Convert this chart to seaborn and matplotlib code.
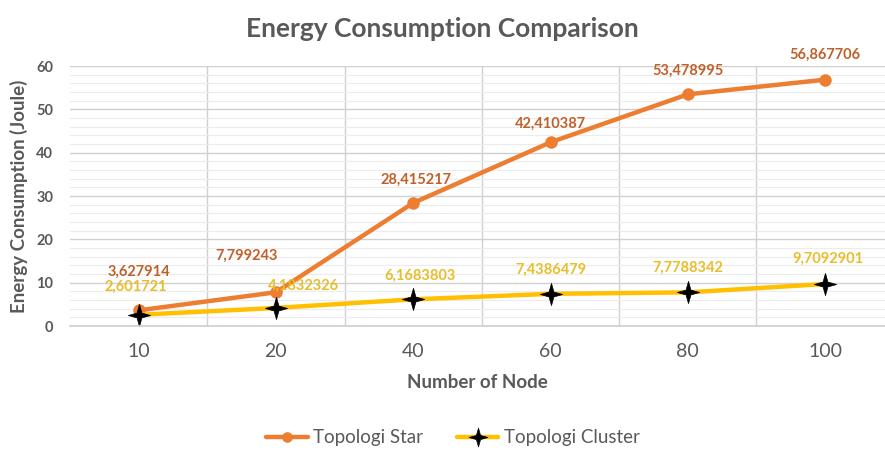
import numpy as np
import pandas as pd
import matplotlib
matplotlib.use("Agg")
import matplotlib.pyplot as plt
from matplotlib.path import Path
from matplotlib.ticker import MultipleLocator
import seaborn as sns

nodes = ["10", "20", "40", "60", "80", "100"]
star = [3.627914, 7.799243, 28.415217, 42.410387, 53.478995, 56.867706]
cluster = [2.601721, 4.1832326, 6.1683803, 7.4386479, 7.7788342, 9.7092901]
star_lbl = ["3,627914", "7,799243", "28,415217", "42,410387", "53,478995", "56,867706"]
cluster_lbl = ["2,601721", "4,1832326", "6,1683803", "7,4386479", "7,7788342", "9,7092901"]

sns.set_theme(style="white")
plt.rcParams['font.family'] = ['Lato', 'DejaVu Sans']

df = pd.DataFrame({"node": nodes * 2,
                   "energy": star + cluster,
                   "series": ["Topologi Star"] * 6 + ["Topologi Cluster"] * 6})

# 4-point star marker like Excel
star4 = Path([(0, 1), (0.22, 0.22), (1, 0), (0.22, -0.22), (0, -1),
              (-0.22, -0.22), (-1, 0), (-0.22, 0.22), (0, 1)],
             [Path.MOVETO] + [Path.LINETO] * 7 + [Path.CLOSEPOLY])

orange = "#ED7D31"
yellow = "#FFC000"
gray = "#595959"

fig = plt.figure(figsize=(8.85, 4.51), dpi=100)
ax = fig.add_axes([0.079, 0.277, 0.921, 0.5765])

sns.lineplot(data=df[df.series == "Topologi Star"], x="node", y="energy", ax=ax,
             color=orange, lw=3.2, marker="o", markersize=9, markeredgewidth=0,
             label="Topologi Star", sort=False)
sns.lineplot(data=df[df.series == "Topologi Cluster"], x="node", y="energy", ax=ax,
             color=yellow, lw=3.2, marker=star4, markersize=16, markerfacecolor="black",
             markeredgecolor="black", markeredgewidth=0.5, label="Topologi Cluster", sort=False)

ax.set_xlim(-0.5, 5.436)
ax.set_ylim(0, 60)
ax.yaxis.set_major_locator(MultipleLocator(10))
ax.yaxis.set_minor_locator(MultipleLocator(2))
ax.set_xticks(np.arange(0.5, 5.5, 1), minor=True)
ax.grid(which="major", axis="y", color="#d0d0d0", lw=1)
ax.grid(which="minor", axis="y", color="#ececec", lw=0.8)
ax.grid(which="minor", axis="x", color="#d0d0d0", lw=1)
ax.set_axisbelow(True)
for s in ax.spines.values():
    s.set_visible(False)
ax.spines["bottom"].set_visible(True)
ax.spines["bottom"].set_color("#d0d0d0")
ax.tick_params(which="both", length=0)
ax.tick_params(axis="y", labelsize=10.5, labelcolor=gray, pad=12)
ax.tick_params(axis="x", labelsize=14, labelcolor=gray, pad=12)
for t in ax.get_yticklabels():
    t.set_fontweight("bold")

star_off = [(0, 28), (-21, 26), (2, 17), (0, 13), (0, 17), (0, 18)]
clus_off = [(-2, 20), (20, 16), (5, 17), (0, 17), (0, 18), (2, 18)]
for i in range(len(nodes)):
    ax.annotate(star_lbl[i], (i, star[i]), xytext=star_off[i], textcoords="offset points",
                ha="center", va="center", fontsize=10.5, color="#C0602A", fontweight="bold")
    ax.annotate(cluster_lbl[i], (i, cluster[i]), xytext=clus_off[i], textcoords="offset points",
                ha="center", va="center", fontsize=10.5, color="#E8BE2A", fontweight="bold")

ax.set_xlabel("Number of Node", fontsize=13.5, color=gray, fontweight="bold", labelpad=10)
ax.set_ylabel("Energy Consumption (Joule)", fontsize=13.5, color=gray, fontweight="bold", labelpad=6)
fig.text(0.5, 0.935, "Energy Consumption Comparison", ha="center", va="center",
         fontsize=19, color=gray, fontweight="bold")

ax.legend(loc="center", bbox_to_anchor=(0.47, -0.43), ncol=2, frameon=False,
          fontsize=13.5, labelcolor=gray, handlelength=2.2, columnspacing=1.8,
          handletextpad=0.3, markerscale=0.85)

fig.savefig("out.png", dpi=100)
